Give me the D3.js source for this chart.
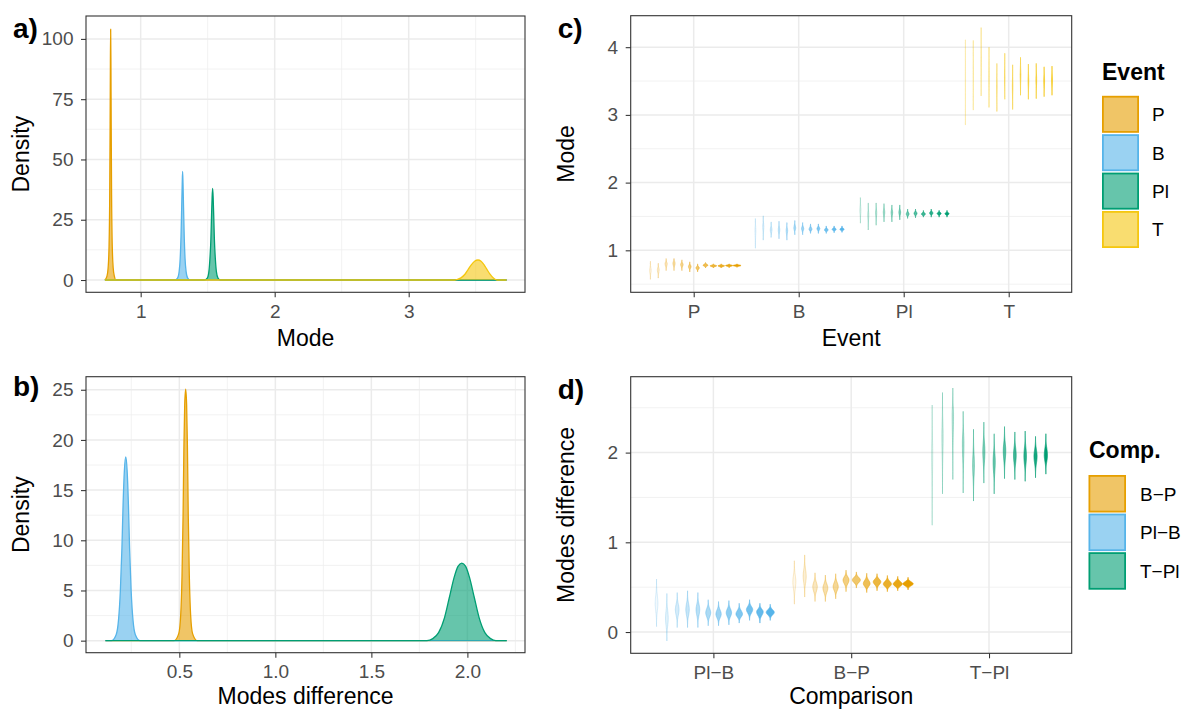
<!DOCTYPE html>
<html>
<head>
<meta charset="utf-8">
<script src="https://cdn.jsdelivr.net/npm/d3@7"></script>
<style>
body { margin: 0; background: #fff; }
svg { display: block; }
</style>
</head>
<body>
<svg id="chart" width="1185" height="709"></svg>
<script>
// ---- data ----
const eventLevels = ["P", "B", "Pl", "T"];
const compLevels = ["Pl−B", "B−P", "T−Pl"];      // axis order in d)
const compLegend = ["B−P", "Pl−B", "T−Pl"];      // legend order
const palette = { "P": "#E69F00", "B": "#56B4E9", "Pl": "#009E73", "T": "#F5C710",
                  "B−P": "#E69F00", "Pl−B": "#56B4E9", "T−Pl": "#009E73" };

// a) density of the mode, per event (common x range of the estimate)
const modeRange = [0.733, 3.73];
const densP_x  = [0.733, 0.748, 0.757, 0.764, 0.769, 0.772, 0.774, 0.776, 0.778, 0.780, 0.783, 0.788, 0.795, 0.804, 0.815];
const densP_y  = [0, 1.5, 5, 14, 35, 65, 90, 104, 90, 65, 35, 14, 5, 1.5, 0];
const densB_x  = [1.255, 1.275, 1.287, 1.295, 1.301, 1.306, 1.310, 1.313, 1.316, 1.320, 1.325, 1.331, 1.339, 1.351, 1.370];
const densB_y  = [0, 0.8, 3.5, 9, 18, 30, 40, 45, 40, 30, 18, 9, 3.5, 0.8, 0];
const densPl_x = [1.475, 1.497, 1.509, 1.517, 1.524, 1.529, 1.533, 1.537, 1.541, 1.545, 1.550, 1.557, 1.565, 1.577, 1.595];
const densPl_y = [0, 0.8, 3.5, 9, 17, 27, 34, 38, 34, 27, 17, 9, 3.5, 0.8, 0];
const densT_x  = [3.345, 3.360, 3.390, 3.420, 3.443, 3.467, 3.492, 3.517, 3.540, 3.563, 3.585, 3.607, 3.630, 3.648, 3.660];
const densT_y  = [0, 0.2, 0.9, 2.4, 4.3, 6.3, 7.8, 8.3, 7.8, 6.3, 4.3, 2.4, 0.9, 0.2, 0];

// b) density of the modes difference, per comparison
const diffRange = [0.115, 2.205];
const densBP_x  = [0.473, 0.497, 0.507, 0.514, 0.5195, 0.524, 0.528, 0.533, 0.538, 0.542, 0.5465, 0.552, 0.559, 0.569, 0.593];
const densBP_y  = [0, 0.7, 2.5, 6.5, 12.5, 19.5, 23.5, 25.05, 23.5, 19.5, 12.5, 6.5, 2.5, 0.7, 0];
const densPlB_x = [0.146, 0.171, 0.183, 0.193, 0.201, 0.207, 0.214, 0.221, 0.228, 0.235, 0.241, 0.249, 0.259, 0.271, 0.296];
const densPlB_y = [0, 0.6, 2, 5, 9.2, 13.5, 17, 18.3, 17, 13.5, 9.2, 5, 2, 0.6, 0];
const densTPl_x = [1.789, 1.820, 1.850, 1.881, 1.906, 1.931, 1.951, 1.971, 1.991, 2.011, 2.036, 2.061, 2.091, 2.121, 2.148];
const densTPl_y = [0, 0.2, 0.8, 2.3, 4.3, 6.3, 7.4, 7.72, 7.4, 6.3, 4.3, 2.3, 0.8, 0.2, 0];

// c) violins of the mode, 12 per event: [low, peak, high]
const violinP = [[0.57, 0.70, 0.84], [0.59, 0.71, 0.81], [0.70, 0.80, 0.88], [0.70, 0.81, 0.88],
                 [0.70, 0.79, 0.86], [0.68, 0.76, 0.83], [0.68, 0.74, 0.80], [0.74, 0.78, 0.82],
                 [0.74, 0.77, 0.80], [0.74, 0.77, 0.80], [0.745, 0.775, 0.80], [0.75, 0.775, 0.80]];
const violinB = [[1.03, 1.29, 1.47], [1.15, 1.35, 1.51], [1.19, 1.30, 1.42], [1.17, 1.30, 1.43],
                 [1.15, 1.29, 1.41], [1.23, 1.33, 1.44], [1.23, 1.32, 1.41], [1.25, 1.31, 1.39],
                 [1.25, 1.32, 1.39], [1.25, 1.30, 1.36], [1.26, 1.31, 1.36], [1.265, 1.31, 1.36]];
const violinPl = [[1.40, 1.59, 1.78], [1.30, 1.52, 1.70], [1.37, 1.555, 1.70], [1.42, 1.56, 1.69],
                  [1.42, 1.56, 1.67], [1.45, 1.56, 1.67], [1.47, 1.535, 1.61], [1.48, 1.545, 1.61],
                  [1.49, 1.535, 1.59], [1.49, 1.55, 1.61], [1.49, 1.545, 1.59], [1.49, 1.54, 1.59]];
const violinT = [[2.85, 3.56, 4.11], [3.07, 3.59, 4.10], [3.28, 3.76, 4.29], [3.11, 3.56, 4.00],
                 [3.05, 3.42, 3.76], [3.23, 3.54, 3.91], [3.08, 3.42, 3.74], [3.29, 3.59, 3.85],
                 [3.23, 3.505, 3.75], [3.24, 3.515, 3.76], [3.27, 3.505, 3.71], [3.29, 3.515, 3.72]];

// d) violins of the modes difference, 12 per comparison
const violinPlB = [[0.06, 0.32, 0.59], [-0.10, 0.15, 0.43], [0.05, 0.25, 0.44], [0.05, 0.25, 0.46],
                   [0.05, 0.25, 0.44], [0.07, 0.215, 0.36], [0.07, 0.20, 0.34], [0.08, 0.215, 0.35],
                   [0.10, 0.20, 0.32], [0.13, 0.25, 0.36], [0.10, 0.225, 0.32], [0.13, 0.22, 0.31]];
const violinBP = [[0.31, 0.56, 0.795], [0.39, 0.62, 0.86], [0.34, 0.505, 0.66], [0.34, 0.49, 0.635],
                  [0.37, 0.505, 0.65], [0.45, 0.58, 0.69], [0.49, 0.58, 0.67], [0.44, 0.54, 0.655],
                  [0.46, 0.56, 0.65], [0.45, 0.535, 0.63], [0.46, 0.535, 0.62], [0.47, 0.537, 0.61]];
const violinTPl = [[1.19, 1.99, 2.53], [1.54, 2.18, 2.67], [1.70, 2.42, 2.72], [1.55, 2.10, 2.46],
                   [1.46, 1.86, 2.26], [1.66, 2.01, 2.34], [1.54, 1.90, 2.21], [1.71, 2.02, 2.29],
                   [1.70, 1.97, 2.23], [1.68, 1.96, 2.24], [1.72, 1.96, 2.18], [1.76, 1.97, 2.21]];

// tick values
const ticksAx = [1, 2, 3], ticksAy = [0, 25, 50, 75, 100];
const ticksBx = [0.5, 1.0, 1.5, 2.0], ticksBy = [0, 5, 10, 15, 20, 25];
const ticksCy = [1, 2, 3, 4], ticksDy = [0, 1, 2];

// ---- drawing ----
const FONT = "'Liberation Sans', Arial, Helvetica, sans-serif";
const TICK_SIZE = 19;
const svg = d3.select("#chart").attr("font-family", FONT);

const PA = { x0: 86, x1: 525, y0: 16, y1: 292.3 };
const PB = { x0: 86, x1: 525, y0: 376.7, y1: 652.7 };
const PC = { x0: 630.7, x1: 1071.7, y0: 15.7, y1: 292.3 };
const PD = { x0: 630.7, x1: 1071.7, y0: 376.7, y1: 653.3 };

function minorOf(ticks, domain) {
    let step = ticks[1] - ticks[0];
    let lo = Math.min(...domain), hi = Math.max(...domain);
    let out = [];
    for (let v = ticks[0] - step / 2; v < ticks[ticks.length - 1] + step; v += step) {
        if (v > lo && v < hi) out.push(v);
    }
    return out;
}

let clipId = 0;
function drawGrid(p, x, y, xTicks, yTicks, discrete) {
    let g = svg.append("g");
    let minX = discrete ? [] : minorOf(xTicks, x.domain());
    let minY = minorOf(yTicks, y.domain());
    g.selectAll(".mx").data(minX).join("line")
        .attr("x1", d => x(d)).attr("x2", d => x(d)).attr("y1", p.y0).attr("y2", p.y1)
        .attr("stroke", "#EFEFEF").attr("stroke-width", 0.8);
    g.selectAll(".my").data(minY).join("line")
        .attr("x1", p.x0).attr("x2", p.x1).attr("y1", d => y(d)).attr("y2", d => y(d))
        .attr("stroke", "#EFEFEF").attr("stroke-width", 0.8);
    g.selectAll(".gx").data(xTicks).join("line")
        .attr("x1", d => x(d)).attr("x2", d => x(d)).attr("y1", p.y0).attr("y2", p.y1)
        .attr("stroke", "#EBEBEB").attr("stroke-width", 1.5);
    g.selectAll(".gy").data(yTicks).join("line")
        .attr("x1", p.x0).attr("x2", p.x1).attr("y1", d => y(d)).attr("y2", d => y(d))
        .attr("stroke", "#EBEBEB").attr("stroke-width", 1.5);

    let id = "clip" + (clipId++);
    svg.append("clipPath").attr("id", id).append("rect")
        .attr("x", p.x0).attr("y", p.y0).attr("width", p.x1 - p.x0).attr("height", p.y1 - p.y0);
    return svg.append("g").attr("clip-path", `url(#${id})`);
}

function styleAxis(sel) {
    sel.attr("font-family", FONT).attr("font-size", TICK_SIZE);
    sel.select(".domain").remove();
    sel.selectAll(".tick line").attr("stroke", "#333333").attr("stroke-width", 1.07);
    sel.selectAll(".tick text").attr("fill", "#4D4D4D");
}

function drawFrame(p, x, y, xTicks, yTicks, fmtX, fmtY, xTitle, yTitle, yTitleX, label, labelY) {
    svg.append("rect")
        .attr("x", p.x0).attr("y", p.y0).attr("width", p.x1 - p.x0).attr("height", p.y1 - p.y0)
        .attr("fill", "none").attr("stroke", "#333333").attr("stroke-width", 1.1);
    svg.append("g").attr("transform", `translate(0,${p.y1})`)
        .call(d3.axisBottom(x).tickValues(xTicks).tickFormat(fmtX).tickSize(5).tickPadding(7.3))
        .call(styleAxis);
    svg.append("g").attr("transform", `translate(${p.x0},0)`)
        .call(d3.axisLeft(y).tickValues(yTicks).tickFormat(fmtY).tickSize(5).tickPadding(7.5))
        .call(styleAxis);
    // keep the bottom titles just inside the page edge
    svg.append("text").attr("x", (p.x0 + p.x1) / 2).attr("y", Math.min(p.y1 + 53.5, 703.5))
        .attr("text-anchor", "middle").attr("font-size", 23).attr("fill", "#000").text(xTitle);
    svg.append("text")
        .attr("transform", `translate(${yTitleX},${(p.y0 + p.y1) / 2}) rotate(-90)`)
        .attr("text-anchor", "middle").attr("font-size", 23).attr("fill", "#000").text(yTitle);
    svg.append("text").attr("x", p.x0 - 73).attr("y", labelY)
        .attr("font-size", 28).attr("font-weight", "bold").attr("fill", "#000").text(label);
}

function drawDensity(g, x, y, xs, ys, range, color) {
    let pts = xs.map((v, i) => [v, ys[i]]);
    if (range[0] < xs[0]) pts.unshift([range[0], 0]);
    if (range[1] > xs[xs.length - 1]) pts.push([range[1], 0]);
    let area = d3.area().x(d => x(d[0])).y0(y(0)).y1(d => y(d[1])).curve(d3.curveMonotoneX);
    let line = d3.line().x(d => x(d[0])).y(d => y(d[1])).curve(d3.curveMonotoneX);
    g.append("path").attr("d", area(pts)).attr("fill", color).attr("fill-opacity", 0.6);
    g.append("path").attr("d", line(pts)).attr("fill", "none")
        .attr("stroke", color).attr("stroke-width", 1.3).attr("stroke-linejoin", "round");
}

// spindle profile of a violin glyph: peaked in the middle, thin tails
const profileU = d3.range(-1, 1.0001, 0.025);
const profileS = 0.32, profileE = Math.exp(-0.5 / (profileS * profileS));
function bump(u) { return Math.max(0, (Math.exp(-0.5 * (u / profileS) ** 2) - profileE) / (1 - profileE)); }

function drawViolins(g, x, y, cat, list, color, minRange) {
    let n = list.length, step = x.step();
    let maxHalf = 0.9 / n / 2 * step;
    let line = d3.line().curve(d3.curveLinearClosed);
    list.forEach((v, i) => {
        let [lo, mid, hi] = v;
        let cx = x(cat) + (-0.45 + 0.9 * (i + 0.5) / n) * step;
        let hw = maxHalf * minRange / (hi - lo);
        let val = u => u < 0 ? mid + u * (mid - lo) : mid + u * (hi - mid);
        let left = profileU.map(u => [cx - hw * bump(u), y(val(u))]);
        let right = profileU.slice().reverse().map(u => [cx + hw * bump(u), y(val(u))]);
        let t = i / (n - 1);
        g.append("path").attr("d", line(left.concat(right)))
            .attr("fill", color).attr("fill-opacity", 0.08 + 0.92 * t)
            .attr("stroke", color).attr("stroke-opacity", 0.3 + 0.7 * t)
            .attr("stroke-width", 0.7);
    });
}

function drawLegend(title, names, tx, ty, kx, ky, ks, pitch, lx) {
    let g = svg.append("g");
    g.append("text").attr("x", tx).attr("y", ty).attr("font-size", 23)
        .attr("font-weight", "bold").attr("fill", "#000").text(title);
    names.forEach((nm, i) => {
        let top = ky + i * pitch;
        g.append("rect").attr("x", kx).attr("y", top).attr("width", ks).attr("height", ks)
            .attr("fill", "#fff");
        g.append("rect").attr("x", kx + 0.9).attr("y", top + 0.9).attr("width", ks - 1.8).attr("height", ks - 1.8)
            .attr("fill", palette[nm]).attr("fill-opacity", 0.6)
            .attr("stroke", palette[nm]).attr("stroke-width", 1.8);
        g.append("text").attr("x", lx).attr("y", top + ks / 2).attr("dy", "0.36em")
            .attr("font-size", TICK_SIZE).attr("fill", "#000").text(nm);
    });
}

// a)
let xA = d3.scaleLinear().domain([0.592, 3.868]).range([PA.x0, PA.x1]);
let yA = d3.scaleLinear().domain([-5.1, 109.5]).range([PA.y1, PA.y0]);
let gA = drawGrid(PA, xA, yA, ticksAx, ticksAy, false);
drawDensity(gA, xA, yA, densP_x, densP_y, modeRange, palette["P"]);
drawDensity(gA, xA, yA, densB_x, densB_y, modeRange, palette["B"]);
drawDensity(gA, xA, yA, densPl_x, densPl_y, modeRange, palette["Pl"]);
drawDensity(gA, xA, yA, densT_x, densT_y, modeRange, palette["T"]);
drawFrame(PA, xA, yA, ticksAx, ticksAy, d3.format("d"), d3.format("d"), "Mode", "Density", 29, "a)", 38);

// b)
let xB = d3.scaleLinear().domain([0.014, 2.30]).range([PB.x0, PB.x1]);
let yB = d3.scaleLinear().domain([-1.2, 26.3]).range([PB.y1, PB.y0]);
let gB = drawGrid(PB, xB, yB, ticksBx, ticksBy, false);
drawDensity(gB, xB, yB, densBP_x, densBP_y, diffRange, palette["B−P"]);
drawDensity(gB, xB, yB, densPlB_x, densPlB_y, diffRange, palette["Pl−B"]);
drawDensity(gB, xB, yB, densTPl_x, densTPl_y, diffRange, palette["T−Pl"]);
drawFrame(PB, xB, yB, ticksBx, ticksBy, d3.format(".1f"), d3.format("d"), "Modes difference", "Density", 29, "b)", 396);

// c)
let xC = d3.scalePoint().domain(eventLevels).range([PC.x0, PC.x1]).padding(0.6);
let yC = d3.scaleLinear().domain([0.38, 4.465]).range([PC.y1, PC.y0]);
let gC = drawGrid(PC, xC, yC, eventLevels, ticksCy, true);
let violinsC = { "P": violinP, "B": violinB, "Pl": violinPl, "T": violinT };
let minC = d3.min(Object.values(violinsC).flat(), v => v[2] - v[0]);
eventLevels.forEach(e => drawViolins(gC, xC, yC, e, violinsC[e], palette[e], minC));
drawFrame(PC, xC, yC, eventLevels, ticksCy, d => d, d3.format("d"), "Event", "Mode", 574, "c)", 38);

// d)
let xD = d3.scalePoint().domain(compLevels).range([PD.x0, PD.x1]).padding(0.6);
let yD = d3.scaleLinear().domain([-0.237, 2.846]).range([PD.y1, PD.y0]);
let gD = drawGrid(PD, xD, yD, compLevels, ticksDy, true);
let violinsD = { "Pl−B": violinPlB, "B−P": violinBP, "T−Pl": violinTPl };
let minD = d3.min(Object.values(violinsD).flat(), v => v[2] - v[0]);
compLevels.forEach(c => drawViolins(gD, xD, yD, c, violinsD[c], palette[c], minD));
drawFrame(PD, xD, yD, compLevels, ticksDy, d => d, d3.format("d"), "Comparison", "Modes difference", 574, "d)", 399);

// legends
drawLegend("Event", eventLevels, 1102, 80, 1102, 95.8, 37, 38.4, 1152);
drawLegend("Comp.", compLegend, 1089, 458, 1088.5, 475, 37.5, 38.6, 1140);
</script>
</body>
</html>
